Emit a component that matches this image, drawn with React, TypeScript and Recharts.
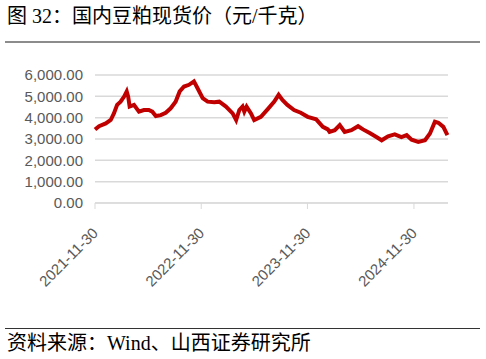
import React from "react";
import { LineChart, Line, XAxis, YAxis, CartesianGrid } from "recharts";

// 国内豆粕现货价 (元/千克)
const dates = [
  "2021-11-30", "2021-12-14", "2022-01-06", "2022-01-23", "2022-02-03", "2022-02-14",
  "2022-02-26", "2022-03-10", "2022-03-19", "2022-03-24", "2022-03-29", "2022-04-13",
  "2022-04-30", "2022-05-17", "2022-06-03", "2022-06-15", "2022-06-27", "2022-07-14",
  "2022-07-31", "2022-08-17", "2022-09-03", "2022-09-17", "2022-10-02", "2022-10-19",
  "2022-11-05", "2022-11-17", "2022-12-05", "2022-12-22", "2023-01-14", "2023-01-31",
  "2023-02-23", "2023-03-18", "2023-03-30", "2023-04-10", "2023-04-21", "2023-04-27",
  "2023-05-05", "2023-05-20", "2023-05-31", "2023-06-23", "2023-07-16", "2023-08-08",
  "2023-08-23", "2023-09-05", "2023-09-22", "2023-10-15", "2023-11-07", "2023-12-01",
  "2023-12-30", "2024-01-22", "2024-02-08", "2024-02-14", "2024-03-03", "2024-03-20",
  "2024-04-06", "2024-04-29", "2024-05-22", "2024-06-08", "2024-07-01", "2024-07-24",
  "2024-08-11", "2024-09-02", "2024-09-25", "2024-10-18", "2024-11-05", "2024-11-22",
  "2024-12-15", "2025-01-07", "2025-01-24", "2025-02-10", "2025-02-22", "2025-03-11",
  "2025-03-25",
];
const prices = [
  3445, 3600, 3730, 3890, 4200, 4600,
  4750, 4990, 5230, 4990, 4520, 4600,
  4280, 4360, 4360, 4280, 4080, 4120,
  4230, 4440, 4750, 5230, 5460, 5540,
  5700, 5390, 4910, 4750, 4720, 4750,
  4520, 4200, 3890, 4360, 4520, 4280,
  4520, 4200, 3890, 4040, 4390, 4750,
  5070, 4830, 4600, 4360, 4230, 4040,
  3920, 3570, 3450, 3330, 3410, 3650,
  3330, 3410, 3600, 3450, 3280, 3090,
  2940, 3130, 3220, 3090, 3180, 2970,
  2860, 2940, 3260, 3810, 3760, 3570,
  3180,
];
const tickDates = ["2021-11-30", "2022-11-30", "2023-11-30", "2024-11-30"];
const yTicks = [0, 1000, 2000, 3000, 4000, 5000, 6000];

const toTs = (d: string) => Date.parse(d + "T00:00:00Z");
const data = dates.map((d, i) => ({ t: toTs(d), price: prices[i] }));
const xTicks = tickDates.map(toTs);

const fmtDate = (ts: number) => new Date(ts).toISOString().slice(0, 10);
const fmtNum = (v: number) =>
  v.toLocaleString("en-US", { minimumFractionDigits: 2, maximumFractionDigits: 2 });

const XTick = ({ x, y, payload }: any) => (
  <text
    transform={`translate(${x + 4},${y + 23}) rotate(-45)`}
    textAnchor="end"
    fontSize={15}
    fill="#595959"
    fontFamily="'Liberation Sans', Arial, sans-serif"
  >
    {fmtDate(payload.value)}
  </text>
);

const cjk = "'Liberation Serif', 'Noto Sans CJK SC', serif";

export default function App() {
  return (
    <div
      style={{
        position: "absolute",
        left: 0,
        top: 0,
        width: 486,
        height: 359,
        background: "#fff",
        overflow: "hidden",
      }}
    >
      <div
        style={{
          position: "absolute",
          left: 7,
          top: 3,
          fontSize: 20,
          lineHeight: "26px",
          fontFamily: cjk,
          color: "#000",
          whiteSpace: "nowrap",
        }}
      >
        图 32：国内豆粕现货价（元/千克）
      </div>
      <div
        style={{ position: "absolute", left: 5, top: 41, width: 475, height: 2, background: "#8c8c8c" }}
      />
      <div style={{ position: "absolute", left: 0, top: 0 }}>
        <LineChart
          width={486}
          height={320}
          data={data}
          margin={{ top: 75, right: 38, left: 0, bottom: 57 }}
        >
          <CartesianGrid vertical={false} stroke="#d9d9d9" strokeWidth={1.5} />
          <XAxis
            dataKey="t"
            type="number"
            scale="time"
            domain={[toTs("2021-11-30"), toTs("2025-03-27")]}
            ticks={xTicks}
            tick={<XTick />}
            interval={0}
            height={60}
            stroke="#d9d9d9"
            tickSize={6}
            tickLine={{ stroke: "#d9d9d9" }}
          />
          <YAxis
            domain={[0, 6000]}
            ticks={yTicks}
            interval={0}
            tickFormatter={fmtNum}
            axisLine={false}
            tickLine={false}
            tickSize={0}
            tickMargin={12}
            width={95}
            tick={{ fontSize: 15, fill: "#595959", fontFamily: "'Liberation Sans', Arial, sans-serif" }}
          />
          <Line
            dataKey="price"
            type="linear"
            stroke="#c00000"
            strokeWidth={4}
            dot={false}
            isAnimationActive={false}
          />
        </LineChart>
      </div>
      <div
        style={{ position: "absolute", left: 5, top: 328, width: 475, height: 1, background: "#333" }}
      />
      <div
        style={{
          position: "absolute",
          left: 7,
          top: 330,
          fontSize: 20,
          lineHeight: "26px",
          fontFamily: cjk,
          color: "#000",
          whiteSpace: "nowrap",
        }}
      >
        资料来源：Wind、山西证券研究所
      </div>
    </div>
  );
}
